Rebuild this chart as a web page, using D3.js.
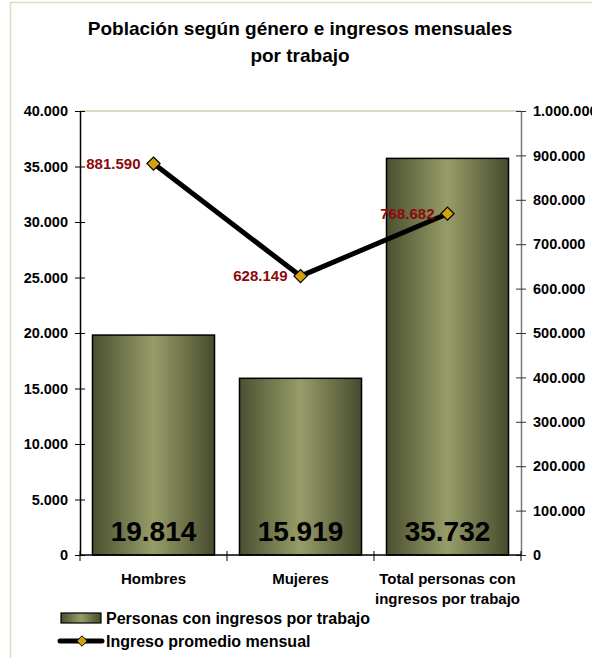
<!DOCTYPE html>
<html>
<head>
  <meta charset="utf-8">
  <style>
    body { margin: 0; background: #fff; font-family: "Liberation Sans", Arial, sans-serif; }
    text { font-weight: bold; }
  </style>
  <title>Población según género</title>
</head>
<body>
  <script src="https://cdn.jsdelivr.net/npm/d3@7"></script>
  <script>
    var categories = [["Hombres"], ["Mujeres"], ["Total personas con", "ingresos por trabajo"]];
    var personas = [19814, 15919, 35732];
    var ingreso = [881590, 628149, 768682];
    var leftTicks = [0, 5000, 10000, 15000, 20000, 25000, 30000, 35000, 40000];
    var rightTicks = [0, 100000, 200000, 300000, 400000, 500000, 600000, 700000, 800000, 900000, 1000000];

    var W = 592, H = 658;
    var plot = { left: 80, right: 521, top: 111, bottom: 555 };
    var FONT = "Liberation Sans, Arial, sans-serif";

    var fmt = function (v) {
      return String(v).replace(/\B(?=(\d{3})+(?!\d))/g, ".");
    };

    var svg = d3.select("body").append("svg")
      .attr("width", W)
      .attr("height", H);

    var defs = svg.append("defs");
    var grad = defs.append("linearGradient").attr("id", "barGrad")
      .attr("x1", "0%").attr("x2", "100%").attr("y1", "0%").attr("y2", "0%");
    grad.append("stop").attr("offset", "0%").attr("stop-color", "#4b5031");
    grad.append("stop").attr("offset", "50%").attr("stop-color", "#979d68");
    grad.append("stop").attr("offset", "100%").attr("stop-color", "#474b2e");

    // chart frame
    svg.append("rect")
      .attr("x", 10.5).attr("y", 2.5)
      .attr("width", W).attr("height", H)
      .attr("fill", "#fff").attr("stroke", "#dcdcc4").attr("stroke-width", 1.5);

    // title
    svg.append("text").attr("x", 300).attr("y", 35)
      .attr("text-anchor", "middle").style("font-size", "19px")
      .text("Población según género e ingresos mensuales");
    svg.append("text").attr("x", 300).attr("y", 62)
      .attr("text-anchor", "middle").style("font-size", "19px")
      .text("por trabajo");

    var x = d3.scaleBand()
      .domain(d3.range(categories.length))
      .range([plot.left, plot.right])
      .paddingInner(0.17).paddingOuter(0.085);

    var xc = d3.scalePoint()
      .domain(d3.range(categories.length))
      .range([plot.left, plot.right])
      .padding(0.5);

    var y = d3.scaleLinear().domain([0, 40000]).range([plot.bottom, plot.top]);
    var y2 = d3.scaleLinear().domain([0, 1000000]).range([plot.bottom, plot.top]);

    // plot top border
    svg.append("line")
      .attr("x1", plot.left).attr("x2", plot.right)
      .attr("y1", plot.top).attr("y2", plot.top)
      .attr("stroke", "#dcdcc4").attr("stroke-width", 2);

    // bars
    svg.selectAll("rect.bar").data(personas).enter().append("rect")
      .attr("class", "bar")
      .attr("x", function (d, i) { return x(i); })
      .attr("y", function (d) { return y(d); })
      .attr("width", x.bandwidth())
      .attr("height", function (d) { return y(0) - y(d); })
      .attr("fill", "url(#barGrad)")
      .attr("stroke", "#000").attr("stroke-width", 1.5);

    svg.selectAll("text.barval").data(personas).enter().append("text")
      .attr("class", "barval")
      .attr("x", function (d, i) { return x(i) + x.bandwidth() / 2; })
      .attr("y", 541)
      .attr("text-anchor", "middle")
      .style("font-size", "28px")
      .attr("fill", "#000")
      .text(fmt);

    // left axis
    var yAxis = d3.axisLeft(y).tickValues(leftTicks).tickFormat(fmt)
      .tickSizeInner(5).tickSizeOuter(0);
    var gl = svg.append("g").attr("transform", "translate(" + plot.left + ",0)").call(yAxis);
    gl.selectAll(".tick line").attr("x2", 5).attr("x1", -5);
    gl.select(".domain").attr("stroke", "#000").attr("stroke-width", 1.5);
    gl.selectAll(".tick text").style("font-size", "14.5px").style("font-family", FONT)
      .attr("x", -12).attr("fill", "#000");

    // right axis
    var y2Axis = d3.axisRight(y2).tickValues(rightTicks).tickFormat(fmt)
      .tickSizeInner(5).tickSizeOuter(0);
    var gr = svg.append("g").attr("transform", "translate(" + plot.right + ",0)").call(y2Axis);
    gr.selectAll(".tick line").attr("x1", -5).attr("x2", 5).attr("stroke", "#333");
    gr.select(".domain").attr("stroke", "#777").attr("stroke-width", 1.5);
    gr.selectAll(".tick text").style("font-size", "14.5px").style("font-family", FONT)
      .attr("x", 12).attr("fill", "#000");

    // bottom axis
    svg.append("line")
      .attr("x1", plot.left).attr("x2", plot.right)
      .attr("y1", plot.bottom).attr("y2", plot.bottom)
      .attr("stroke", "#000").attr("stroke-width", 1.5);
    var bounds = d3.range(categories.length + 1).map(function (i) {
      return plot.left + i * (plot.right - plot.left) / categories.length;
    });
    svg.selectAll("line.ctick").data(bounds).enter().append("line")
      .attr("class", "ctick")
      .attr("x1", function (d) { return d; }).attr("x2", function (d) { return d; })
      .attr("y1", plot.bottom - 4).attr("y2", plot.bottom + 6)
      .attr("stroke", "#000");

    var cl = svg.selectAll("text.cat").data(categories).enter().append("text")
      .attr("class", "cat")
      .attr("text-anchor", "middle")
      .style("font-size", "15px");
    cl.each(function (lines, i) {
      var t = d3.select(this);
      lines.forEach(function (s, k) {
        t.append("tspan").attr("x", xc(i)).attr("y", 584 + k * 20).text(s);
      });
    });

    // line series
    var line = d3.line()
      .x(function (d, i) { return xc(i); })
      .y(function (d) { return y2(d); });
    svg.append("path").datum(ingreso)
      .attr("d", line)
      .attr("fill", "none").attr("stroke", "#000").attr("stroke-width", 5)
      .attr("stroke-linejoin", "round");

    var diamond = d3.symbol().type(d3.symbolDiamond2).size(110);
    svg.selectAll("path.mk").data(ingreso).enter().append("path")
      .attr("class", "mk")
      .attr("transform", function (d, i) { return "translate(" + xc(i) + "," + y2(d) + ")"; })
      .attr("d", diamond)
      .attr("fill", "#d4a20c").attr("stroke", "#000").attr("stroke-width", 1.2);

    svg.selectAll("text.lv").data(ingreso).enter().append("text")
      .attr("class", "lv")
      .attr("x", function (d, i) { return xc(i) - 13; })
      .attr("y", function (d) { return y2(d) + 5; })
      .attr("text-anchor", "end")
      .style("font-size", "15px")
      .attr("fill", "#8b0a0a")
      .text(fmt);

    // legend
    svg.append("rect").attr("x", 61).attr("y", 613).attr("width", 40).attr("height", 10)
      .attr("fill", "url(#barGrad)").attr("stroke", "#000").attr("stroke-width", 1.2);
    svg.append("text").attr("x", 106).attr("y", 624).style("font-size", "16px")
      .text("Personas con ingresos por trabajo");
    svg.append("line").attr("x1", 60).attr("x2", 102).attr("y1", 641).attr("y2", 641)
      .attr("stroke", "#000").attr("stroke-width", 5).attr("stroke-linecap", "round");
    svg.append("path").attr("transform", "translate(82,641)")
      .attr("d", d3.symbol().type(d3.symbolDiamond2).size(70))
      .attr("fill", "#d4a20c").attr("stroke", "#000").attr("stroke-width", 1);
    svg.append("text").attr("x", 106).attr("y", 647).style("font-size", "16px")
      .text("Ingreso promedio mensual");
  </script>
</body>
</html>
